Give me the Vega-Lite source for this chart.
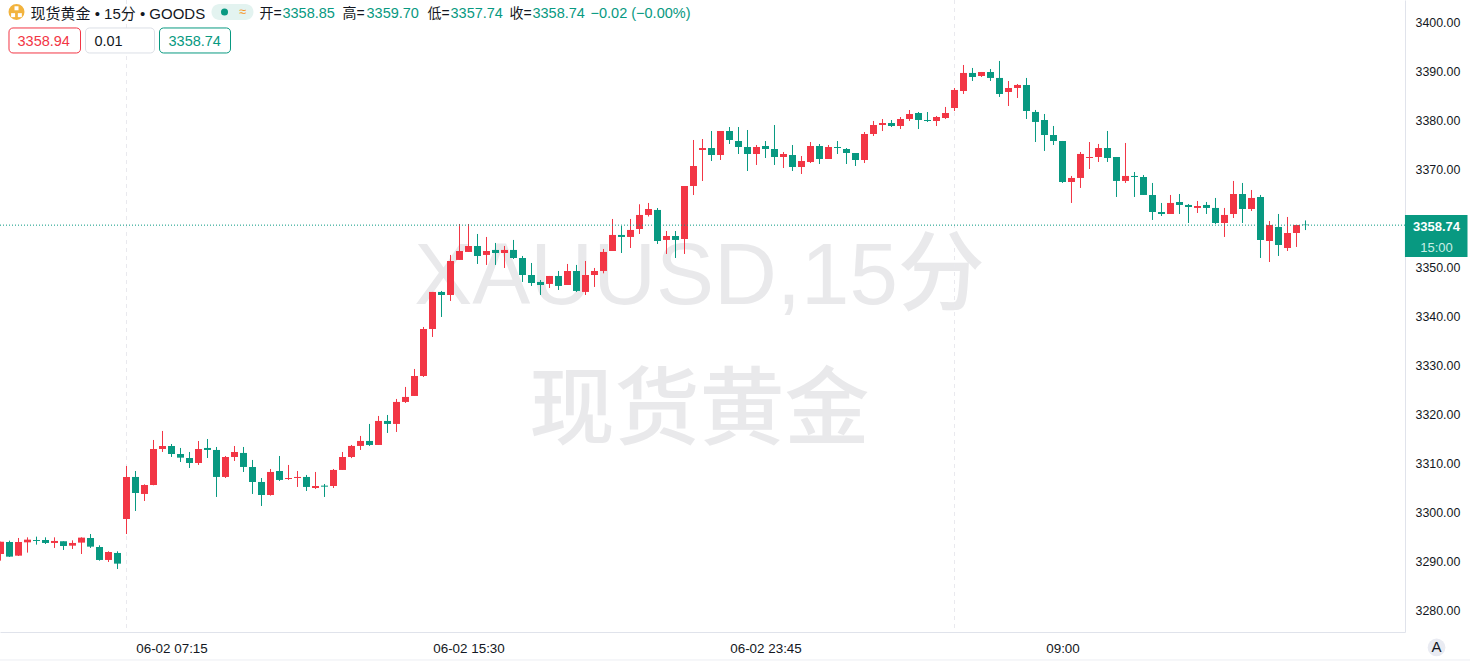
{"$schema":"https://vega.github.io/schema/vega-lite/v6.json","autosize":{"type":"none"},"width":1405,"height":632,"padding":{"left":0,"top":0,"right":65,"bottom":31},"background":"#ffffff","config":{"view":{"stroke":null},"font":"Liberation Sans"},"datasets":{"candles":[
{"bar":0,"open":3291.63,"high":3294.15,"low":3290.27,"close":3294.15},{"bar":1,"open":3294.08,"high":3294.35,"low":3291.02,"close":3291.09},{"bar":2,"open":3291.29,"high":3294.9,"low":3291.22,"close":3294.08},{"bar":3,"open":3294.01,"high":3295.03,"low":3291.91,"close":3294.56},{"bar":4,"open":3294.49,"high":3295.17,"low":3293.54,"close":3294.29},{"bar":5,"open":3294.49,"high":3295.03,"low":3293.67,"close":3293.88},{"bar":6,"open":3293.88,"high":3295.03,"low":3292.86,"close":3294.29},{"bar":7,"open":3294.22,"high":3294.22,"low":3292.45,"close":3293.27},{"bar":8,"open":3293.33,"high":3294.42,"low":3292.65,"close":3293.88},{"bar":9,"open":3293.95,"high":3295.03,"low":3291.63,"close":3294.97},{"bar":10,"open":3294.9,"high":3295.71,"low":3292.86,"close":3293.13},{"bar":11,"open":3293.06,"high":3293.4,"low":3290.27,"close":3290.41},{"bar":12,"open":3290.41,"high":3292.18,"low":3290,"close":3292.04},{"bar":13,"open":3291.84,"high":3292.18,"low":3288.57,"close":3289.66},{"bar":14,"open":3298.78,"high":3309.59,"low":3295.71,"close":3307.35},{"bar":15,"open":3307.35,"high":3308.57,"low":3300.41,"close":3304.08},{"bar":16,"open":3303.88,"high":3305.85,"low":3302.45,"close":3305.71},{"bar":17,"open":3305.71,"high":3314.9,"low":3305.65,"close":3313.06},{"bar":18,"open":3313.06,"high":3316.74,"low":3312.45,"close":3313.67},{"bar":19,"open":3313.67,"high":3314.08,"low":3311.43,"close":3312.04},
{"bar":20,"open":3312.04,"high":3313.27,"low":3310.41,"close":3311.29},{"bar":21,"open":3311.22,"high":3312.45,"low":3309.18,"close":3310.2},{"bar":22,"open":3310.2,"high":3314.69,"low":3309.8,"close":3313.06},{"bar":23,"open":3313.27,"high":3315.1,"low":3311.22,"close":3312.86},{"bar":24,"open":3312.86,"high":3313.47,"low":3303.27,"close":3307.35},{"bar":25,"open":3307.35,"high":3311.63,"low":3307.14,"close":3311.43},{"bar":26,"open":3311.43,"high":3313.67,"low":3310.61,"close":3312.45},{"bar":27,"open":3312.25,"high":3313.47,"low":3308.37,"close":3309.39},{"bar":28,"open":3309.39,"high":3310.82,"low":3303.88,"close":3306.33},{"bar":29,"open":3306.33,"high":3307.14,"low":3301.43,"close":3303.67},{"bar":30,"open":3303.67,"high":3308.98,"low":3303.54,"close":3308.37},{"bar":31,"open":3308.57,"high":3311.63,"low":3306.53,"close":3306.74},{"bar":32,"open":3306.94,"high":3309.8,"low":3306.74,"close":3307.14},{"bar":33,"open":3307.14,"high":3308.57,"low":3305.31,"close":3307.35},{"bar":34,"open":3307.35,"high":3307.76,"low":3304.49,"close":3305.31},{"bar":35,"open":3305.1,"high":3308.37,"low":3304.9,"close":3305.51},{"bar":36,"open":3305.58,"high":3305.92,"low":3303.27,"close":3305.37},{"bar":37,"open":3305.51,"high":3308.98,"low":3305.1,"close":3308.78},{"bar":38,"open":3308.78,"high":3312.45,"low":3308.78,"close":3311.43},{"bar":39,"open":3311.43,"high":3313.88,"low":3311.2,"close":3313.68},
{"bar":40,"open":3313.68,"high":3315.72,"low":3312.86,"close":3314.7},{"bar":41,"open":3314.7,"high":3318.17,"low":3313.68,"close":3313.88},{"bar":42,"open":3313.88,"high":3319.8,"low":3313.88,"close":3318.78},{"bar":43,"open":3318.78,"high":3320,"low":3316.33,"close":3318.17},{"bar":44,"open":3318.17,"high":3323.27,"low":3316.53,"close":3322.66},{"bar":45,"open":3322.66,"high":3325.72,"low":3322.45,"close":3323.68},{"bar":46,"open":3323.88,"high":3329.39,"low":3323.88,"close":3327.96},{"bar":47,"open":3327.96,"high":3337.96,"low":3327.76,"close":3337.55},{"bar":48,"open":3337.55,"high":3345.11,"low":3335.92,"close":3345.11},{"bar":49,"open":3345.11,"high":3345.31,"low":3340,"close":3344.49},{"bar":50,"open":3344.49,"high":3352.66,"low":3343.27,"close":3351.43},{"bar":51,"open":3351.64,"high":3358.98,"low":3351.64,"close":3353.47},{"bar":52,"open":3353.27,"high":3358.98,"low":3353.27,"close":3354.49},{"bar":53,"open":3354.49,"high":3356.94,"low":3350.82,"close":3352.45},{"bar":54,"open":3352.66,"high":3356.33,"low":3350.62,"close":3353.47},{"bar":55,"open":3353.68,"high":3355.11,"low":3350.62,"close":3353.06},{"bar":56,"open":3353.06,"high":3354.49,"low":3350,"close":3353.68},{"bar":57,"open":3353.68,"high":3355.72,"low":3351.84,"close":3352.04},{"bar":58,"open":3352.04,"high":3352.45,"low":3347.15,"close":3348.57},{"bar":59,"open":3348.57,"high":3351.02,"low":3346.33,"close":3346.94},
{"bar":60,"open":3347.15,"high":3347.55,"low":3344.49,"close":3346.53},{"bar":61,"open":3346.74,"high":3348.37,"low":3345.92,"close":3348.37},{"bar":62,"open":3348.37,"high":3349.39,"low":3345.51,"close":3346.33},{"bar":63,"open":3346.53,"high":3350.82,"low":3346.53,"close":3349.39},{"bar":64,"open":3349.39,"high":3350.62,"low":3345.11,"close":3345.31},{"bar":65,"open":3345.11,"high":3351.43,"low":3344.49,"close":3348.57},{"bar":66,"open":3348.57,"high":3350,"low":3346.13,"close":3349.39},{"bar":67,"open":3349.39,"high":3353.88,"low":3348.91,"close":3353.27},{"bar":68,"open":3353.47,"high":3360,"low":3353.47,"close":3356.74},{"bar":69,"open":3356.74,"high":3358.57,"low":3353.06,"close":3356.33},{"bar":70,"open":3356.33,"high":3360,"low":3354.08,"close":3357.76},{"bar":71,"open":3357.96,"high":3363,"low":3356.94,"close":3360.82},{"bar":72,"open":3360.82,"high":3363.27,"low":3360.5,"close":3362.04},{"bar":73,"open":3361.84,"high":3362.24,"low":3354.9,"close":3355.51},{"bar":74,"open":3355.72,"high":3357.55,"low":3352.86,"close":3356.53},{"bar":75,"open":3356.53,"high":3357.55,"low":3352.04,"close":3355.72},{"bar":76,"open":3355.91,"high":3366.73,"low":3352.86,"close":3366.73},{"bar":77,"open":3366.73,"high":3376.12,"low":3364.89,"close":3370.81},{"bar":78,"open":3374.08,"high":3376.32,"low":3367.75,"close":3374.48},{"bar":79,"open":3374.48,"high":3377.95,"low":3371.83,"close":3373.06},
{"bar":80,"open":3373.06,"high":3377.95,"low":3372.04,"close":3377.95},{"bar":81,"open":3377.95,"high":3378.77,"low":3375.3,"close":3376.12},{"bar":82,"open":3375.91,"high":3378.77,"low":3373.26,"close":3374.69},{"bar":83,"open":3374.69,"high":3378.16,"low":3369.79,"close":3373.26},{"bar":84,"open":3373.26,"high":3375.1,"low":3371.02,"close":3374.69},{"bar":85,"open":3374.89,"high":3375.91,"low":3372.44,"close":3374.28},{"bar":86,"open":3374.28,"high":3379.18,"low":3371.02,"close":3372.65},{"bar":87,"open":3372.65,"high":3373.67,"low":3370.4,"close":3373.26},{"bar":88,"open":3373.06,"high":3375.1,"low":3369.79,"close":3370.61},{"bar":89,"open":3370.61,"high":3372.85,"low":3369.18,"close":3371.83},{"bar":90,"open":3371.63,"high":3375.71,"low":3371.42,"close":3374.89},{"bar":91,"open":3374.89,"high":3375.3,"low":3371.22,"close":3372.24},{"bar":92,"open":3372.24,"high":3375.1,"low":3372.24,"close":3374.69},{"bar":93,"open":3374.69,"high":3375.91,"low":3373.26,"close":3374.48},{"bar":94,"open":3374.28,"high":3374.48,"low":3371.22,"close":3373.46},{"bar":95,"open":3373.46,"high":3373.46,"low":3370.81,"close":3372.04},{"bar":96,"open":3372.04,"high":3377.75,"low":3371.42,"close":3377.34},{"bar":97,"open":3377.34,"high":3380,"low":3376.93,"close":3379.18},{"bar":98,"open":3379.18,"high":3380.4,"low":3377.95,"close":3379.59},{"bar":99,"open":3379.59,"high":3380.2,"low":3378.77,"close":3378.97},
{"bar":100,"open":3378.97,"high":3380.81,"low":3378.36,"close":3380.4},{"bar":101,"open":3380.4,"high":3382.24,"low":3380,"close":3381.42},{"bar":102,"open":3381.63,"high":3381.83,"low":3378.36,"close":3380.2},{"bar":103,"open":3380.2,"high":3381.83,"low":3379.79,"close":3380},{"bar":104,"open":3380,"high":3381.02,"low":3378.97,"close":3380.81},{"bar":105,"open":3380.61,"high":3382.86,"low":3380.41,"close":3381.63},{"bar":106,"open":3382.65,"high":3386.73,"low":3382.04,"close":3386.33},{"bar":107,"open":3386.12,"high":3391.43,"low":3385.51,"close":3389.8},{"bar":108,"open":3389.8,"high":3390.82,"low":3388.16,"close":3388.98},{"bar":109,"open":3389.18,"high":3390,"low":3388.98,"close":3390},{"bar":110,"open":3390,"high":3390.61,"low":3388.16,"close":3388.78},{"bar":111,"open":3388.78,"high":3392.25,"low":3384.9,"close":3385.51},{"bar":112,"open":3385.92,"high":3388.16,"low":3383.06,"close":3386.73},{"bar":113,"open":3386.73,"high":3387.55,"low":3384.69,"close":3387.35},{"bar":114,"open":3387.35,"high":3388.78,"low":3380.41,"close":3382.04},{"bar":115,"open":3381.84,"high":3382.25,"low":3375.71,"close":3379.8},{"bar":116,"open":3380.2,"high":3381.43,"low":3373.88,"close":3377.14},{"bar":117,"open":3377.14,"high":3378.98,"low":3375.1,"close":3375.92},{"bar":118,"open":3375.92,"high":3375.92,"low":3367.35,"close":3367.55},{"bar":119,"open":3367.55,"high":3368.78,"low":3363.27,"close":3368.37},
{"bar":120,"open":3368.37,"high":3373.67,"low":3366.33,"close":3373.27},{"bar":121,"open":3372.45,"high":3375.71,"low":3370.2,"close":3372.65},{"bar":122,"open":3372.65,"high":3375.31,"low":3371.63,"close":3374.49},{"bar":123,"open":3374.49,"high":3377.96,"low":3371.63,"close":3372.45},{"bar":124,"open":3372.65,"high":3372.65,"low":3364.49,"close":3367.76},{"bar":125,"open":3367.76,"high":3375.51,"low":3367.35,"close":3368.78},{"bar":126,"open":3368.78,"high":3369.59,"low":3364.49,"close":3368.57},{"bar":127,"open":3368.57,"high":3368.98,"low":3364.9,"close":3364.9},{"bar":128,"open":3364.9,"high":3367.35,"low":3359.8,"close":3361.43},{"bar":129,"open":3361.43,"high":3363.27,"low":3360.61,"close":3361.02},{"bar":130,"open":3361.02,"high":3364.9,"low":3361.02,"close":3363.27},{"bar":131,"open":3363.47,"high":3365.1,"low":3361.02,"close":3362.86},{"bar":132,"open":3362.86,"high":3363.06,"low":3359.18,"close":3362.45},{"bar":133,"open":3362.25,"high":3363.67,"low":3361.22,"close":3362.65},{"bar":134,"open":3362.86,"high":3363.47,"low":3361.02,"close":3362.25},{"bar":135,"open":3362.25,"high":3364.29,"low":3358.98,"close":3359.18},{"bar":136,"open":3359.18,"high":3362.25,"low":3356.33,"close":3360.82},{"bar":137,"open":3361.02,"high":3367.76,"low":3360.2,"close":3365.1},{"bar":138,"open":3365.1,"high":3367.35,"low":3359.18,"close":3362.04},{"bar":139,"open":3362.04,"high":3365.92,"low":3361.63,"close":3364.29},
{"bar":140,"open":3364.49,"high":3364.9,"low":3352.04,"close":3355.71},{"bar":141,"open":3355.51,"high":3359.59,"low":3351.22,"close":3358.78},{"bar":142,"open":3358.37,"high":3361.02,"low":3352.45,"close":3354.69},{"bar":143,"open":3354.08,"high":3360.41,"low":3353.47,"close":3357.14},{"bar":144,"open":3357.14,"high":3358.78,"low":3354.29,"close":3358.78},{"bar":145,"open":3358.85,"high":3359.7,"low":3357.74,"close":3358.74}],
"session":[{"bar":14,"price":3404.69,"price2":3275.71},{"bar":106,"price":3404.69,"price2":3275.71}],
"last":[{"bar":-0.0556,"bar2":156.0556,"price":3358.74}],
"foot":[{"bar":-0.0556,"bar2":163.33,"price":3270}],
"watermark1":[{"bar":77.67,"price":3347.9,"label":"XAUUSD,15分"}],
"watermark2":[{"bar":77.67,"price":3320.6,"label":"现货黄金"}],
"boxRed":[{"bar":0.944,"bar2":8.889,"price":3398.98,"price2":3393.88}],
"boxGray":[{"bar":9.444,"bar2":17.11,"price":3398.98,"price2":3393.88}],
"boxGreen":[{"bar":17.667,"bar2":25.556,"price":3398.98,"price2":3393.88}],
"pill":[{"bar":23.44,"bar2":28.11,"price":3403.88,"price2":3400.61}],
"tag":[{"bar":156.05,"bar2":163,"price":3360.82,"price2":3356.53},{"bar":156.05,"bar2":163,"price":3356.53,"price2":3352.24}],
"logo":[{"bar":1.778,"price":3402.245}],
"logoDots":[{"bar":1.778,"price":3403.0},{"bar":1.4,"price":3401.6},{"bar":2.15,"price":3401.6}],
"dot":[{"bar":24.89,"price":3402.245}],
"wave":[{"bar":26.89,"price":3402.245,"label":"≈"}],
"titleText":[{"bar":3.333,"price":3401.93,"label":"现货黄金 • 15分 • GOODS"}],
"ohlcLabel":[{"bar":28.778,"price":3401.93,"label":"开="},{"bar":38,"price":3401.93,"label":"高="},{"bar":47.44,"price":3401.93,"label":"低="},{"bar":56.556,"price":3401.93,"label":"收="}],
"greenText":[{"bar":31.33,"price":3401.93,"label":"3358.85"},{"bar":40.667,"price":3401.93,"label":"3359.70"},{"bar":50,"price":3401.93,"label":"3357.74"},{"bar":59.11,"price":3401.93,"label":"3358.74"},{"bar":65.56,"price":3401.93,"label":"−0.02 (−0.00%)"},{"bar":18.667,"price":3396.13,"label":"3358.74"}],
"redText":[{"bar":1.889,"price":3396.13,"label":"3358.94"}],
"grayText":[{"bar":10.44,"price":3396.13,"label":"0.01"}],
"tagPrice":[{"bar":159.56,"price":3358.37,"label":"3358.74"}],
"tagTime":[{"bar":159.56,"price":3354.1,"label":"15:00"}],
"auto":[{"bar":159.56,"price":3272.55,"label":"A"}]},
"encoding":{"x":{"field":"bar","type":"quantitative","title":null,"scale":{"domain":[-0.0556,156.0556],"nice":false,"zero":false,"padding":0},"axis":{"values":[19,52,85,118],"labelExpr":"datum.value==19?'06-02 07:15':datum.value==52?'06-02 15:30':datum.value==85?'06-02 23:45':'09:00'","grid":false,"ticks":false,"domainColor":"#e0e3eb","labelColor":"#131722","labelFontSize":13.4,"labelPadding":9,"labelFlush":false,"labelOverlap":false,"title":null}},"y":{"field":"price","type":"quantitative","title":null,"scale":{"domain":[3275.71,3404.69],"nice":false,"zero":false},"axis":{"orient":"right","values":[3280,3290,3300,3310,3320,3330,3340,3350,3370,3380,3390,3400],"format":".2f","grid":false,"ticks":false,"domainColor":"#e0e3eb","labelColor":"#131722","labelFontSize":12.4,"labelPadding":10,"labelAlign":"left","labelFlush":false,"labelOverlap":false,"title":null}}},
"layer":[
{"data":{"name":"watermark1"},"mark":{"type":"text","font":"Liberation Sans, Noto Sans CJK SC","fontSize":87,"fontWeight":500,"color":"#e9e9eb","align":"center","baseline":"middle"},"encoding":{"text":{"field":"label"}}},
{"data":{"name":"watermark2"},"mark":{"type":"text","font":"Liberation Sans, Noto Sans CJK SC","fontSize":85,"fontWeight":500,"color":"#e9e9eb","align":"center","baseline":"middle"},"encoding":{"text":{"field":"label"}}},
{"data":{"name":"session"},"mark":{"type":"rule","color":"#e9e9ee","strokeDash":[4,4],"strokeWidth":1},"encoding":{"y2":{"field":"price2"}}},
{"data":{"name":"candles"},"mark":{"type":"rule","strokeWidth":1,"clip":true},"encoding":{"y":{"field":"high","type":"quantitative","title":null,"scale":{"domain":[3275.71,3404.69],"nice":false,"zero":false}},"y2":{"field":"low"},"color":{"condition":{"test":"datum.close>=datum.open","value":"#f23645"},"value":"#089981"}}},
{"data":{"name":"candles"},"mark":{"type":"bar","size":7,"clip":true},"encoding":{"y":{"field":"open","type":"quantitative","title":null,"scale":{"domain":[3275.71,3404.69],"nice":false,"zero":false}},"y2":{"field":"close"},"color":{"condition":{"test":"datum.close>=datum.open","value":"#f23645"},"value":"#089981"}}},
{"data":{"name":"last"},"mark":{"type":"rule","color":"#089981","strokeDash":[1,2],"strokeWidth":1},"encoding":{"x2":{"field":"bar2"}}},
{"data":{"name":"foot"},"mark":{"type":"rule","color":"#eceef3","strokeWidth":1},"encoding":{"x2":{"field":"bar2"}}},
{"data":{"name":"tag"},"mark":{"type":"rect","fill":"#089981"},"encoding":{"x2":{"field":"bar2"},"y2":{"field":"price2"}}},
{"data":{"name":"boxRed"},"mark":{"type":"rect","fill":"#ffffff","stroke":"#f23645","cornerRadius":4,"strokeWidth":1},"encoding":{"x2":{"field":"bar2"},"y2":{"field":"price2"}}},
{"data":{"name":"boxGray"},"mark":{"type":"rect","fill":"#ffffff","stroke":"#dcdfe6","cornerRadius":4,"strokeWidth":1},"encoding":{"x2":{"field":"bar2"},"y2":{"field":"price2"}}},
{"data":{"name":"boxGreen"},"mark":{"type":"rect","fill":"#ffffff","stroke":"#089981","cornerRadius":4,"strokeWidth":1},"encoding":{"x2":{"field":"bar2"},"y2":{"field":"price2"}}},
{"data":{"name":"pill"},"mark":{"type":"rect","fill":"#e3f3f0","cornerRadius":8},"encoding":{"x2":{"field":"bar2"},"y2":{"field":"price2"}}},
{"data":{"name":"logo"},"mark":{"type":"circle","size":254,"color":"#f2b33d","opacity":1}},
{"data":{"name":"logoDots"},"mark":{"type":"square","size":16,"color":"#ffffff","opacity":1}},
{"data":{"name":"dot"},"mark":{"type":"circle","size":50,"color":"#089981","opacity":1}},
{"data":{"name":"wave"},"mark":{"type":"text","color":"#f7931a","fontSize":13,"align":"center","baseline":"middle"},"encoding":{"text":{"field":"label"}}},
{"data":{"name":"titleText"},"mark":{"type":"text","font":"Liberation Sans, Noto Sans CJK SC","fontSize":15,"color":"#131722","align":"left","baseline":"middle"},"encoding":{"text":{"field":"label"}}},
{"data":{"name":"ohlcLabel"},"mark":{"type":"text","font":"Liberation Sans, Noto Sans CJK SC","fontSize":14,"color":"#131722","align":"left","baseline":"middle"},"encoding":{"text":{"field":"label"}}},
{"data":{"name":"greenText"},"mark":{"type":"text","fontSize":14.5,"color":"#089981","align":"left","baseline":"middle"},"encoding":{"text":{"field":"label"}}},
{"data":{"name":"redText"},"mark":{"type":"text","fontSize":14.5,"color":"#f23645","align":"left","baseline":"middle"},"encoding":{"text":{"field":"label"}}},
{"data":{"name":"grayText"},"mark":{"type":"text","fontSize":14.5,"color":"#131722","align":"left","baseline":"middle"},"encoding":{"text":{"field":"label"}}},
{"data":{"name":"tagPrice"},"mark":{"type":"text","fontSize":13,"fontWeight":"bold","color":"#ffffff","align":"center","baseline":"middle"},"encoding":{"text":{"field":"label"}}},
{"data":{"name":"tagTime"},"mark":{"type":"text","fontSize":13,"color":"#c8efe6","align":"center","baseline":"middle"},"encoding":{"text":{"field":"label"}}},
{"data":{"name":"auto"},"mark":{"type":"circle","size":314,"color":"#e9ebf2","opacity":1}},
{"data":{"name":"auto"},"mark":{"type":"text","fontSize":15,"color":"#131722","align":"center","baseline":"middle"},"encoding":{"text":{"field":"label"}}}
]}
